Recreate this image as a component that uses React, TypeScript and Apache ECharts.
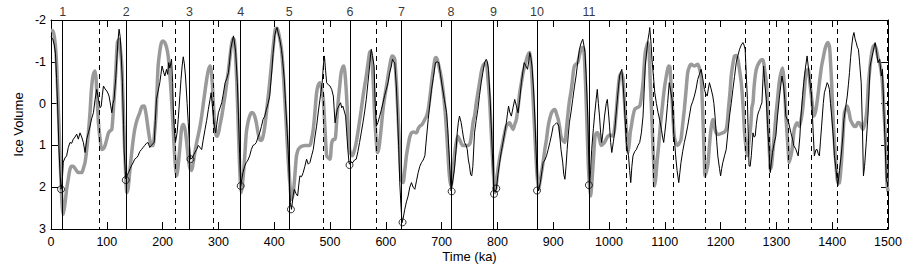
import React, { useEffect, useRef } from "react";
import * as echarts from "echarts";

// Observed (black) record: [time ka, ice volume]
const recordData: [number, number][] = [
  [0,-1.6],[3,-1.55],[6,-1.4],[8,-1.2],[10,-0.6],[12,0.1],[14,1.0],[16,1.6],[18,2.05],[20,1.9],[22,1.4],[25,1.3],[28,1.25],[31,1.05],[34,0.93],[37,0.95],[40,0.85],[43,0.8],[46,0.73],[49,0.85],[52,0.7],[55,0.8],[58,0.93],[61,1.17],[64,0.85],[67,0.7],[70,0.54],[73,0.35],[76,0.22],[79,-0.1],[82,-0.34],[85,-0.1],[88,0.1],[90,0.06],[92,-0.2],[94,-0.42],[97,-0.35],[100,-0.3],[102,-0.25],[104,-0.18],[107,0.05],[109,0.22],[111,0.0],[113,-0.1],[116,-0.6],[118,-1.06],[120,-1.5],[122,-1.78],[124,-1.6],[125,-1.38],[127,-0.8],[128,-0.5],[130,0.5],[131,1.1],[133,1.6],[134,1.8],[137,1.7],[139,1.65],[142,1.55],[144,1.49],[147,1.42],[150,1.33],[153,1.3],[156,1.25],[159,1.15],[162,1.1],[165,1.05],[168,1.0],[171,0.95],[174,0.93],[177,1.05],[180,1.0],[183,0.95],[185,0.93],[187,0.4],[189,-0.1],[192,-0.3],[195,-0.5],[197,-0.7],[199,-0.9],[202,-0.75],[204,-0.66],[207,-0.82],[209,-0.7],[211,-0.98],[213,-0.85],[216,-1.06],[218,-0.5],[219,0.06],[221,0.6],[223,0.93],[226,0.7],[228,0.38],[231,-0.2],[233,-0.58],[235,-0.9],[237,-1.12],[239,-0.95],[241,-0.66],[244,0.0],[246,0.46],[248,0.95],[250,1.33],
  [253,1.3],[256,1.22],[258,1.17],[261,1.1],[264,1.0],[267,1.05],[270,1.1],[273,0.85],[276,0.62],[279,0.4],[282,0.14],[285,-0.1],[287,-0.26],[289,0.0],[291,0.3],[293,0.55],[295,0.7],[297,0.5],[300,0.22],[303,0.1],[306,-0.02],[309,-0.25],[312,-0.5],[315,-0.6],[318,-0.74],[320,-1.0],[322,-1.3],[325,-1.5],[327,-1.62],[329,-1.45],[331,-1.22],[334,-0.5],[336,0.3],[338,1.2],[340,1.97],[342,1.8],[344,1.65],[347,1.5],[350,1.41],[353,1.35],[356,1.25],[359,1.1],[362,1.0],[365,0.98],[368,0.93],[371,0.8],[374,0.7],[377,0.55],[380,0.38],[383,0.3],[386,0.14],[389,0.0],[392,-0.18],[394,-0.5],[396,-0.82],[398,-1.2],[401,-1.62],[403,-1.75],[405,-1.82],[407,-1.7],[410,-1.54],[413,-1.3],[415,-1.06],[418,-0.6],[420,-0.1],[423,0.6],[425,1.1],[427,1.8],[429,2.37],[431,2.53],[434,2.2],[436,2.05],[439,2.15],[442,2.21],[444,1.95],[446,1.73],[449,1.75],[452,1.65],[455,1.5],[458,1.33],[461,1.45],[464,1.41],[467,1.25],[470,1.1],[473,0.8],[476,0.54],[479,0.2],[482,-0.1],[484,-0.3],[486,-0.5],[488,-0.9],[490,-1.14],[492,-0.8],[494,-0.5],[497,-0.45],[500,-0.42],
  [503,-0.34],[506,-0.18],[509,0.46],[511,0.3],[513,0.14],[516,0.05],[519,-0.02],[521,0.1],[523,0.06],[526,0.2],[528,0.3],[530,0.7],[532,1.1],[534,1.4],[535,1.45],[538,1.4],[541,1.41],[544,1.35],[547,1.33],[550,1.15],[553,0.93],[556,0.7],[559,0.46],[562,0.2],[565,-0.1],[568,-0.5],[571,-0.9],[573,-1.2],[574,-1.3],[576,-1.15],[579,-0.9],[581,0.0],[583,0.54],[586,0.45],[589,0.3],[592,0.15],[595,-0.02],[598,-0.2],[601,-0.34],[604,-0.5],[607,-0.74],[610,-0.9],[612,-1.06],[614,-1.0],[616,-0.98],[619,-0.4],[621,0.3],[623,1.0],[625,1.89],[627,2.4],[629,2.85],[631,2.75],[634,2.53],[637,2.35],[640,2.21],[643,2.0],[646,1.89],[649,2.0],[652,2.05],[655,1.85],[658,1.65],[661,1.5],[664,1.41],[667,1.35],[670,1.25],[673,0.8],[676,0.38],[679,0.0],[682,-0.34],[685,-0.6],[689,-0.98],[692,-1.0],[695,-0.98],[698,-0.7],[701,-0.42],[705,-0.1],[709,0.22],[711,0.6],[713,1.1],[715,1.6],[717,2.09],[720,1.85],[723,1.57],[726,1.1],[728,0.7],[730,0.45],[732,0.3],[735,0.45],[737,0.62],[739,0.8],[741,0.93],[744,1.0],[746,1.1],[748,1.35],[750,1.49],
  [752,1.7],[754,1.73],[756,1.5],[759,0.7],[762,0.4],[765,0.14],[768,-0.2],[771,-0.5],[774,-0.75],[777,-0.98],[780,-1.06],[782,-1.0],[784,-0.82],[787,-0.1],[789,0.54],[791,1.2],[794,2.05],[796,2.1],[798,2.05],[801,1.7],[804,1.41],[807,1.15],[810,0.93],[813,0.7],[816,0.46],[818,0.25],[820,0.06],[822,0.2],[825,0.3],[828,0.1],[831,-0.1],[834,0.05],[837,0.22],[840,-0.1],[843,-0.5],[846,-0.8],[848,-0.98],[851,-0.9],[854,-0.82],[856,-1.0],[858,-1.22],[860,-1.1],[862,-0.9],[865,-0.3],[867,0.3],[869,1.0],[871,1.7],[873,2.09],[875,2.0],[877,1.89],[880,1.6],[882,1.41],[885,1.35],[888,1.25],[891,1.1],[894,0.93],[897,0.75],[900,0.54],[903,0.5],[906,0.46],[908,0.48],[910,0.54],[912,0.8],[914,1.1],[917,1.4],[919,1.7],[921,1.81],[923,1.5],[925,1.1],[927,0.75],[929,0.46],[932,0.2],[935,-0.1],[938,-0.4],[941,-0.66],[944,-1.0],[947,-1.3],[950,-1.45],[953,-1.54],[955,-1.4],[957,-1.22],[959,-0.7],[962,0.3],[964,1.5],[965,1.97],[967,1.6],[969,1.1],[972,0.6],[974,0.3],[977,-0.1],[979,-0.34],[981,0.0],[983,0.3],[985,0.7],[987,0.93],[989,0.7],[992,0.3],[995,0.0],[997,-0.1],[999,0.2],
  [1001,0.54],[1003,0.93],[1005,1.17],[1008,0.9],[1010,0.7],[1013,0.2],[1015,-0.1],[1017,-0.4],[1019,-0.66],[1021,-0.75],[1023,-0.82],[1025,-0.5],[1027,-0.1],[1029,0.4],[1031,0.93],[1033,1.1],[1035,1.25],[1037,1.6],[1039,1.89],[1041,1.5],[1043,1.25],[1046,1.15],[1049,1.1],[1052,1.0],[1055,0.93],[1058,0.7],[1061,0.3],[1063,-0.3],[1065,-0.9],[1068,-1.3],[1070,-1.54],[1072,-1.7],[1073,-1.82],[1075,-1.5],[1077,-1.06],[1080,-0.6],[1082,-0.26],[1085,0.0],[1088,0.22],[1091,0.4],[1094,0.62],[1096,0.8],[1098,0.93],[1100,0.7],[1102,0.46],[1105,0.0],[1108,-0.5],[1110,-0.35],[1113,-0.1],[1116,0.7],[1118,1.0],[1120,1.33],[1122,1.6],[1125,1.89],[1127,1.65],[1129,1.41],[1132,1.15],[1135,0.93],[1138,0.75],[1141,0.54],[1144,0.3],[1147,0.06],[1150,-0.05],[1153,-0.18],[1156,-0.35],[1159,-0.58],[1162,-0.7],[1165,-0.82],[1168,-0.6],[1171,-0.34],[1173,-0.25],[1176,-0.18],[1178,-0.35],[1180,-0.5],[1183,-0.35],[1186,-0.18],[1188,0.0],[1190,0.3],[1193,0.9],[1195,1.25],[1198,1.55],[1200,1.73],[1202,1.55],[1204,1.41],[1207,1.25],[1210,1.1],[1213,0.7],[1216,0.3],[1219,0.0],[1222,-0.34],[1225,-0.65],[1228,-0.98],[1231,-1.15],[1234,-1.3],[1237,-1.4],[1240,-1.46],[1242,-1.4],[1244,-1.3],[1246,-0.7],[1248,-0.1],[1250,1.0],
  [1251,1.49],[1253,1.5],[1255,1.25],[1258,0.7],[1260,0.8],[1262,0.78],[1264,0.5],[1266,0.3],[1268,0.2],[1270,0.14],[1272,0.05],[1274,-0.02],[1276,-0.6],[1277,-0.9],[1279,-0.5],[1282,-0.1],[1284,0.5],[1286,0.93],[1289,1.65],[1291,1.4],[1293,1.17],[1296,0.95],[1299,0.78],[1302,0.3],[1305,-0.1],[1308,-0.45],[1310,-0.66],[1313,-0.42],[1315,-0.1],[1317,0.3],[1320,0.4],[1322,0.46],[1326,0.7],[1329,0.85],[1331,1.0],[1335,1.1],[1339,1.25],[1342,0.8],[1344,0.3],[1347,-0.2],[1349,-0.5],[1352,-0.85],[1355,-1.14],[1357,-0.9],[1359,-0.66],[1361,-0.4],[1363,-0.18],[1366,0.7],[1368,1.25],[1371,1.1],[1373,1.1],[1375,1.2],[1377,1.25],[1379,0.9],[1381,0.54],[1384,0.0],[1386,-0.26],[1389,-0.4],[1391,-0.5],[1393,-0.45],[1395,-0.34],[1397,0.0],[1399,0.3],[1402,0.8],[1404,1.25],[1407,1.6],[1410,1.97],[1413,1.6],[1416,1.25],[1419,0.8],[1421,0.38],[1424,0.1],[1427,-0.18],[1429,-0.45],[1431,-0.74],[1433,-1.1],[1435,-1.38],[1437,-1.6],[1439,-1.7],[1441,-1.55],[1443,-1.46],[1445,-1.35],[1447,-1.3],[1449,-1.0],[1452,-0.5],[1454,0.5],[1456,1.73],[1458,1.5],[1461,0.93],[1464,0.3],[1466,-0.3],[1468,-0.9],[1471,-1.1],[1473,-1.22],[1475,-1.35],[1477,-1.46],[1479,-1.3],[1482,-0.98],[1485,-1.06],[1488,-0.66],[1490,-0.82],[1493,0.3],[1495,1.0],[1497,1.81],[1500,1.97]
];

// Model (gray) curve: [time ka, ice volume]
const modelData: [number, number][] = [
  [0,-1.75],[3,-1.75],[6,-1.6],[9,-1.2],[12,-0.3],[15,0.8],[18,1.9],[20,2.45],[22,2.65],[25,2.4],[28,2.05],[31,1.8],[34,1.57],[37,1.5],[40,1.5],[44,1.57],[49,1.65],[55,1.65],[58,1.55],[61,1.41],[64,1.1],[67,0.7],[70,0.2],[72,-0.26],[74,-0.55],[76,-0.7],[79,-0.78],[81,-0.55],[82,-0.26],[84,0.2],[85,0.46],[88,0.85],[91,1.1],[94,1.08],[97,1.0],[100,0.85],[103,0.7],[106,0.65],[109,0.62],[112,0.1],[115,-0.5],[117,-1.0],[119,-1.46],[122,-1.54],[124,-1.35],[127,-0.9],[129,-0.1],[131,0.7],[133,1.4],[136,2.13],[138,2.05],[141,1.65],[144,1.25],[147,0.9],[150,0.62],[154,0.4],[159,0.22],[163,0.07],[167,0.06],[169,0.15],[171,0.3],[174,0.6],[177,0.86],[180,1.0],[183,1.0],[185,0.8],[188,0.3],[190,-0.3],[192,-0.9],[195,-1.25],[198,-1.46],[201,-1.5],[204,-1.46],[207,-1.35],[210,-1.14],[213,-0.7],[216,-0.1],[219,0.6],[221,1.1],[223,1.5],[225,1.73],[227,1.6],[229,1.33],[232,0.9],[234,0.6],[237,0.5],[240,0.6],[243,0.9],[246,1.3],[249,1.55],[252,1.6],[255,1.4],[258,1.15],[261,0.93],[264,0.75],[267,0.55],[270,0.3],[273,0.0],[276,-0.3],[279,-0.58],[282,-0.8],[285,-0.9],[287,-0.8],[289,-0.5],[291,0.0],[294,0.62],[296,0.76],[298,0.78],[301,0.65],[303,0.5],[306,0.3],[309,0.05],[312,-0.2],[315,-0.5],[318,-0.8],[321,-1.15],[324,-1.46],[326,-1.55],[328,-1.54],[330,-1.3],[333,-0.5],[335,0.3],[337,1.1],[339,1.8],[341,2.13],[343,1.95],[346,1.49],[348,1.1],[350,0.7],[353,0.45],[356,0.3],[359,0.22],[362,0.22],[365,0.3],[368,0.46],[371,0.7],[374,0.86],[377,0.88],[379,0.84],[382,0.65],[384,0.46],[387,0.1],[390,-0.26],[393,-0.65],[396,-1.06],[399,-1.45],[402,-1.78],[405,-1.8],[407,-1.74],[410,-1.55],[413,-1.3],[416,-0.8],[419,-0.1],[422,0.6],[425,1.33],[428,1.9],[431,2.29],[434,2.15],[436,1.89],[438,1.55],[440,1.25],[443,1.1],[446,1.05],[450,1.02],[455,1.0],[460,1.0],[464,1.0],[467,0.85],[470,0.62],[473,0.2],[476,-0.26],[479,-0.45],[482,-0.5],[485,-0.35],[488,-0.1],[491,0.6],[494,1.25],[497,1.3],[500,1.33],
  [503,0.95],[506,0.86],[509,0.86],[512,0.4],[515,-0.1],[518,-0.5],[520,-0.74],[523,-0.88],[525,-0.9],[527,-0.7],[529,-0.34],[532,0.4],[535,1.1],[538,1.22],[540,1.25],[543,1.15],[547,0.93],[551,0.6],[556,0.14],[560,-0.25],[565,-0.66],[568,-0.95],[571,-1.22],[573,-1.25],[575,-1.06],[578,-0.4],[580,0.3],[583,0.9],[585,1.17],[587,1.1],[589,0.93],[592,0.55],[595,0.14],[598,-0.15],[601,-0.4],[604,-0.66],[607,-0.9],[611,-1.14],[614,-1.12],[616,-1.06],[619,-0.5],[622,0.3],[625,1.2],[627,1.73],[629,1.87],[631,1.89],[634,1.6],[637,1.25],[640,1.0],[643,0.8],[646,0.7],[650,0.68],[655,0.7],[658,0.6],[661,0.54],[665,0.5],[670,0.38],[673,0.3],[676,0.14],[679,-0.15],[682,-0.5],[685,-0.8],[688,-1.06],[690,-1.1],[692,-1.06],[696,-0.85],[700,-0.58],[704,-0.15],[707,0.3],[710,0.9],[713,1.57],[715,1.85],[717,1.97],[720,1.65],[723,1.25],[726,0.95],[729,0.78],[732,0.85],[735,0.95],[738,1.0],[742,1.0],[747,1.0],[751,0.95],[754,0.7],[757,0.4],[759,0.3],[762,0.0],[765,-0.26],[768,-0.5],[771,-0.75],[774,-0.9],[777,-0.96],[780,-0.98],[783,-0.6],[786,-0.1],[789,0.7],[792,1.49],[794,1.9],[796,2.13],[798,1.95],[801,1.57],[804,1.3],[807,1.1],[810,0.9],[813,0.7],[816,0.54],[819,0.48],[822,0.46],[825,0.55],[828,0.62],[831,0.5],[834,0.38],[837,0.1],[840,-0.26],[843,-0.5],[846,-0.74],[849,-0.9],[852,-1.05],[854,-1.14],[856,-1.2],[858,-1.22],[860,-1.0],[862,-0.6],[864,-0.1],[867,0.7],[870,1.49],[872,1.85],[874,2.05],[876,1.9],[879,1.65],[882,1.4],[885,1.1],[888,0.85],[891,0.54],[894,0.35],[897,0.22],[900,0.16],[903,0.14],[906,0.25],[909,0.38],[912,0.6],[914,0.78],[917,0.88],[921,0.93],[923,0.7],[926,0.3],[929,-0.05],[932,-0.3],[934,-0.5],[936,-0.75],[938,-0.9],[941,-0.95],[944,-0.98],[947,-1.15],[950,-1.3],[953,-1.35],[955,-1.3],[957,-0.8],[959,-0.1],[961,0.7],[963,1.49],[965,1.95],[967,2.21],[969,1.95],[971,1.57],[973,1.15],[975,0.78],[978,0.7],[980,0.7],[983,0.85],[986,1.0],[989,0.97],[992,0.93],[995,0.85],[998,0.78],
  [1002,0.75],[1007,0.78],[1010,0.6],[1013,0.2],[1016,-0.3],[1019,-0.65],[1022,-0.74],[1025,-0.6],[1028,0.0],[1031,0.6],[1034,1.17],[1036,1.0],[1038,0.7],[1040,0.54],[1043,0.3],[1046,0.14],[1050,0.1],[1055,0.06],[1058,-0.15],[1061,-0.5],[1063,-0.9],[1065,-1.22],[1068,-1.4],[1070,-1.46],[1072,-1.2],[1074,-0.5],[1077,0.4],[1079,1.1],[1081,1.7],[1082,1.97],[1084,1.75],[1086,1.41],[1089,1.0],[1092,0.54],[1095,0.15],[1099,-0.34],[1102,-0.6],[1105,-0.82],[1107,-0.9],[1109,-0.88],[1111,-0.5],[1113,-0.1],[1115,0.4],[1117,0.78],[1120,0.95],[1123,1.0],[1126,0.95],[1129,0.86],[1132,0.5],[1135,0.14],[1138,-0.3],[1141,-0.74],[1144,-0.88],[1147,-0.94],[1150,-0.92],[1153,-0.9],[1156,-0.92],[1159,-0.94],[1162,-0.85],[1165,-0.66],[1167,-0.1],[1169,0.6],[1171,1.4],[1172,1.73],[1174,1.65],[1177,1.49],[1180,1.0],[1182,0.7],[1184,0.5],[1186,0.38],[1188,0.45],[1190,0.62],[1193,0.72],[1196,0.74],[1200,0.72],[1204,0.7],[1207,0.68],[1210,0.62],[1212,0.45],[1214,0.14],[1217,-0.3],[1219,-0.66],[1222,-0.95],[1225,-1.14],[1228,-1.15],[1231,-1.06],[1234,-0.8],[1237,-0.5],[1240,0.0],[1243,0.7],[1246,1.1],[1248,1.25],[1251,0.9],[1254,0.54],[1256,0.1],[1258,-0.02],[1260,-0.4],[1263,-0.75],[1266,-0.9],[1270,-1.0],[1273,-1.05],[1276,-1.05],[1279,-0.8],[1282,-0.5],[1284,0.0],[1286,0.7],[1288,1.3],[1289,1.57],[1291,1.5],[1293,1.25],[1296,0.8],[1299,0.3],[1302,-0.1],[1305,-0.5],[1308,-0.72],[1311,-0.85],[1313,-0.65],[1315,-0.3],[1317,0.3],[1319,0.7],[1321,1.1],[1323,1.41],[1326,1.25],[1328,1.1],[1330,0.85],[1332,0.62],[1335,0.5],[1337,0.46],[1339,0.5],[1341,0.54],[1344,0.4],[1347,0.14],[1350,-0.3],[1353,-0.74],[1355,-0.8],[1357,-0.82],[1360,-0.5],[1362,-0.26],[1365,0.1],[1367,0.3],[1369,0.25],[1371,0.14],[1373,-0.05],[1375,-0.26],[1378,-0.6],[1381,-0.9],[1384,-1.1],[1387,-1.3],[1390,-1.42],[1392,-1.46],[1395,-1.38],[1397,-1.0],[1399,-0.5],[1401,0.2],[1404,0.93],[1407,1.5],[1409,1.81],[1411,1.9],[1413,1.89],[1416,1.5],[1418,1.1],[1420,0.6],[1422,0.22],[1425,0.1],[1427,0.06],[1430,0.2],[1433,0.4],[1437,0.5],[1440,0.55],[1443,0.54],[1446,0.45],[1449,0.46],[1452,0.55],[1455,0.62],[1458,0.5],[1461,0.3],[1463,0.0],[1465,-0.5],[1468,-0.9],[1470,-1.14],[1473,-1.35],[1476,-1.4],[1479,-1.3],[1482,-1.1],[1485,-0.98],[1488,-0.75],[1490,-0.5],[1492,0.0],[1495,0.7],[1497,1.3],[1498,1.89],[1500,2.1]
];

// Glacial maxima marked with circles
const maximaData: [number, number][] = [
  [18, 2.05], [134, 1.83], [250, 1.33], [340, 1.97], [430, 2.53], [535, 1.47],
  [630, 2.84], [718, 2.1], [794, 2.16], [798, 2.03], [871, 2.08], [964, 1.95]
];

// Terminations (solid lines, numbered)
const terminationTimes: number[] = [21, 135, 248, 340, 427, 536, 628, 717, 793, 871, 964];
const terminationLabels: string[] = ["1", "2", "3", "4", "5", "6", "7", "8", "9", "10", "11"];

// Dashed reference lines
const dashedTimes: number[] = [86, 222, 291, 488, 582, 1031, 1080, 1116, 1172, 1245, 1287, 1322, 1362, 1409, 1498];

const FONT = "'Liberation Sans', Arial, Helvetica, sans-serif";

export default function App() {
  const ref = useRef<HTMLDivElement>(null);
  useEffect(() => {
    if (!ref.current) return;
    const chart = echarts.init(ref.current, undefined, { renderer: "svg" });
    const axisLine = { show: true, onZero: false, lineStyle: { color: "#000", width: 1 } };
    const tick = { show: true, inside: true, length: 7, lineStyle: { color: "#000", width: 1 } };
    const markLineData = [
      ...terminationTimes.map((t) => ({ xAxis: t, lineStyle: { type: "solid", color: "#000", width: 1 } })),
      ...dashedTimes.map((t) => ({ xAxis: t, lineStyle: { type: [5, 4], color: "#000", width: 1 } })),
    ];
    chart.setOption({
      animation: false,
      backgroundColor: "#fff",
      textStyle: { fontFamily: FONT, color: "#000" },
      grid: { left: 51, right: 31, top: 20, bottom: 36, containLabel: false, outerBoundsMode: "none" },
      xAxis: [
        {
          type: "value", min: 0, max: 1500, interval: 100, position: "bottom",
          axisLine, axisTick: tick, splitLine: { show: false },
          axisLabel: { color: "#000", fontSize: 12.5, margin: 6, fontFamily: FONT, formatter: (v: number) => String(v) },
          name: "Time (ka)", nameLocation: "middle", nameGap: 21, nameMoveOverlap: false,
          nameTextStyle: { color: "#000", fontSize: 13, fontFamily: FONT },
        },
        {
          type: "value", min: 0, max: 1500, interval: 100, position: "top",
          axisLine, axisTick: tick, splitLine: { show: false }, axisLabel: { show: false },
        },
      ],
      yAxis: [
        {
          type: "value", min: -2, max: 3, interval: 1, inverse: true, position: "left",
          axisLine, axisTick: tick, splitLine: { show: false },
          axisLabel: { color: "#000", fontSize: 12.5, margin: 5, fontFamily: FONT, formatter: (v: number) => String(v) },
          name: "Ice Volume", nameLocation: "middle", nameGap: 26, nameRotate: 90, nameMoveOverlap: false,
          nameTextStyle: { color: "#000", fontSize: 13, fontFamily: FONT },
        },
        {
          type: "value", min: -2, max: 3, interval: 1, inverse: true, position: "right",
          axisLine, axisTick: tick, splitLine: { show: false }, axisLabel: { show: false },
        },
      ],
      series: [
        {
          name: "lines", type: "line", data: [], xAxisIndex: 0, yAxisIndex: 0,
          markLine: { silent: true, symbol: "none", label: { show: false }, data: markLineData, animation: false },
        },
        {
          name: "model", type: "line", data: modelData, showSymbol: false, smooth: 0.25,
          lineStyle: { color: "#9a9a9a", width: 3.5 }, itemStyle: { color: "#9a9a9a" }, z: 3,
        },
        {
          name: "record", type: "line", data: recordData, showSymbol: false,
          lineStyle: { color: "#000", width: 1 }, itemStyle: { color: "#000" }, z: 4,
        },
        {
          name: "maxima", type: "scatter", data: maximaData, symbol: "circle", symbolSize: 7,
          itemStyle: { color: "rgba(0,0,0,0)", borderColor: "#000", borderWidth: 1 }, z: 5,
        },
        {
          name: "terminations", type: "scatter", symbolSize: 0,
          itemStyle: { color: "#000" },
          data: terminationTimes.map((t, i) => ({ value: [t, -2], name: terminationLabels[i] })),
          label: {
            show: true, position: "top", distance: 2, formatter: (p: any) => p.name,
            color: "#000", textBorderWidth: 0, fontSize: 12.5, fontFamily: FONT,
          },
          z: 5,
        },
      ],
    });
    return () => chart.dispose();
  }, []);
  return (
    <div
      ref={ref}
      style={{ position: "fixed", left: 0, top: 0, width: 919, height: 265, background: "#fff" }}
    />
  );
}
